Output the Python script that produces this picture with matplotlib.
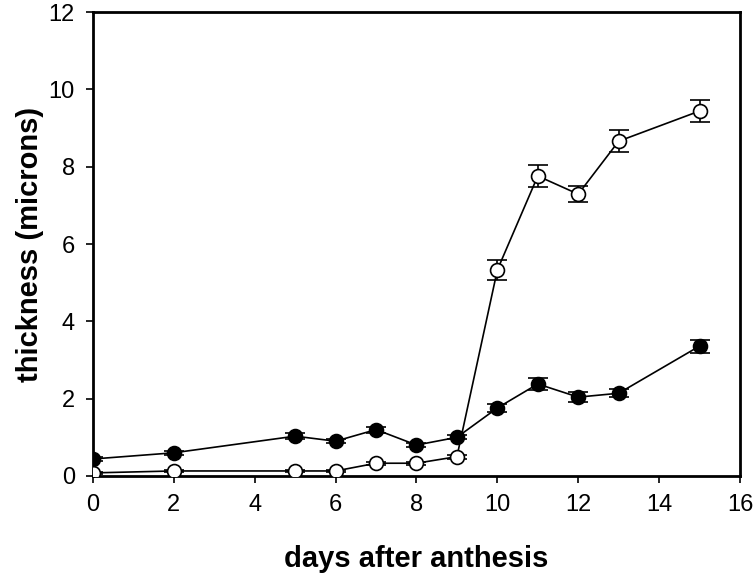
import matplotlib
matplotlib.use("Agg")
import matplotlib.pyplot as plt

days = [0, 2, 5, 6, 7, 8, 9, 10, 11, 12, 13, 15]
filled = [0.44, 0.60, 1.03, 0.90, 1.20, 0.80, 1.00, 1.76, 2.38, 2.04, 2.14, 3.36]
filled_err = [0.04, 0.05, 0.07, 0.05, 0.08, 0.05, 0.05, 0.10, 0.15, 0.12, 0.10, 0.17]
open_ = [0.08, 0.13, 0.13, 0.13, 0.33, 0.33, 0.50, 5.33, 7.76, 7.29, 8.66, 9.44]
open_err = [0.03, 0.03, 0.03, 0.03, 0.04, 0.04, 0.05, 0.25, 0.28, 0.20, 0.28, 0.28]

plt.rcParams["font.family"] = ["Liberation Sans", "DejaVu Sans"]

fig = plt.figure(figsize=(7.53, 5.75), dpi=100)
ax = fig.add_axes([0.1235, 0.1722, 0.8592, 0.8068])

ax.errorbar(days, open_, yerr=open_err, color="black", lw=1.2, marker="o",
            ms=10, mfc="white", mec="black", mew=1.2, capsize=7, elinewidth=1.2,
            capthick=1.2, zorder=3)
ax.errorbar(days, filled, yerr=filled_err, color="black", lw=1.2, marker="o",
            ms=10, mfc="black", mec="black", mew=1.2, capsize=7, elinewidth=1.2,
            capthick=1.2, zorder=4)

ax.set_xlim(0, 16)
ax.set_ylim(0, 12)
ax.set_xticks(range(0, 17, 2))
ax.set_yticks(range(0, 13, 2))
for s in ax.spines.values():
    s.set_linewidth(2)
ax.tick_params(direction="out", length=5, width=1.2, labelsize=17, pad=8)

ax.set_xlabel("days after anthesis", fontsize=21, fontweight="bold")
ax.set_ylabel("thickness (microns)", fontsize=21, fontweight="bold")
ax.xaxis.set_label_coords(0.5, -0.148)
ax.yaxis.set_label_coords(-0.076, 0.5)

fig.savefig("out.png", dpi=100)
